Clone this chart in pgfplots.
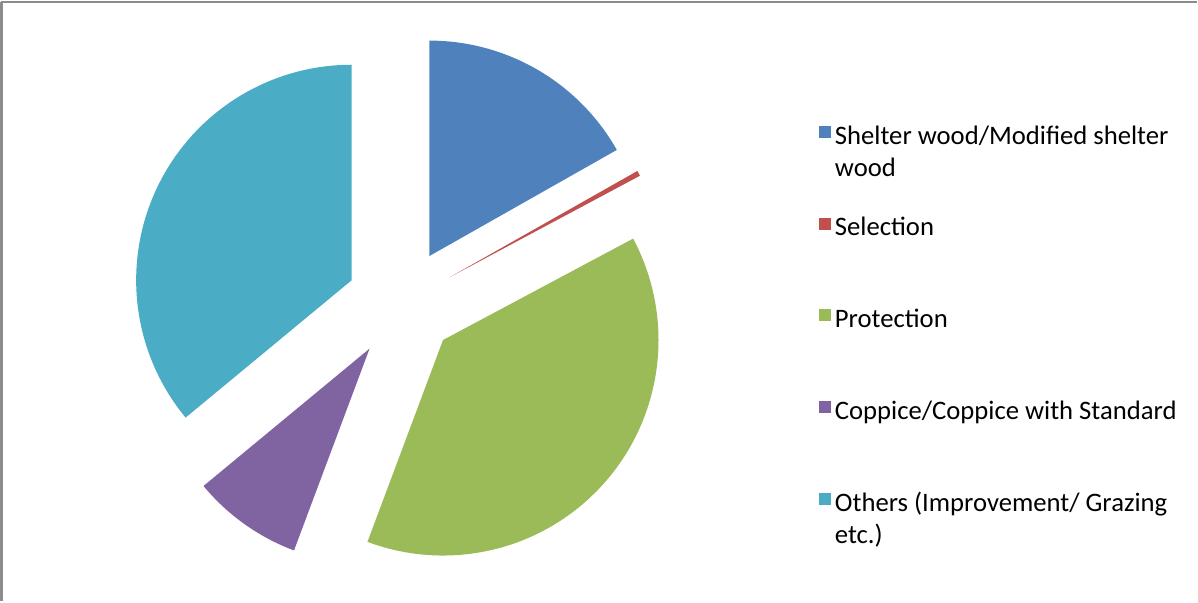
\documentclass[border=0pt]{standalone}
\usepackage{pgfplots}
\pgfplotsset{compat=1.18}
\usepackage{fontspec}
\setmainfont{Carlito}
\definecolor{cA}{HTML}{4F81BD}
\definecolor{cB}{HTML}{C0504D}
\definecolor{cC}{HTML}{9BBB59}
\definecolor{cD}{HTML}{8064A2}
\definecolor{cE}{HTML}{4BACC6}
\newcommand{\lgd}[1]{\parbox[t]{176pt}{\raggedright #1}}
% one exploded slice: #1 cumulative start (%), #2 value (%), #3 colour
\newcommand{\slice}[3]{%
  \pgfmathsetmacro\sa{90-3.6*#1}%
  \pgfmathsetmacro\sb{90-3.6*(#1+#2)}%
  \pgfmathsetmacro\sm{(\sa+\sb)/2}%
  \pgfmathsetmacro\cx{402+55*cos(\sm)}%
  \pgfmathsetmacro\cy{297+55*sin(\sm)}%
  \edef\temp{\noexpand\addplot[fill=#3, draw=none, domain=\sb:\sa, samples=120]
    ({\cx+215*cos(x)},{\cy+215*sin(x)}) -- (axis cs:\cx,\cy) -- cycle;}%
  \temp}
\begin{document}
\begin{tikzpicture}
\begin{axis}[
  scale only axis, width=599pt, height=302.5pt,
  xmin=0, xmax=1198, ymin=0, ymax=605,
  hide axis, clip=false,
  legend image code/.code={\fill[#1] (0pt,-0.8pt) rectangle (6pt,5.2pt);},
  legend cell align=left,
  legend style={draw=none, fill=none, at={(axis cs:818,479)}, anchor=north west,
    font=\fontsize{13.3}{16}\selectfont, row sep=31pt, inner sep=0pt,
    /tikz/every even column/.append style={column sep=4pt}},
]
\slice{0}{16.8}{cA}
\addlegendentry{\lgd{Shelter wood/Modified shelter\\wood}}
\slice{16.8}{0.4}{cB}
\addlegendentry{\lgd{Selection}}
\slice{17.2}{38.5}{cC}
\addlegendentry{\lgd{Protection}}
\slice{55.7}{8.3}{cD}
\addlegendentry{\lgd{Coppice/Coppice with Standard}}
\slice{64.0}{36.0}{cE}
\addlegendentry{\lgd{Others (Improvement/ Grazing\\etc.)}}
\draw[gray!90, line width=1.5pt] (axis cs:3,0) -- (axis cs:3,598.5);
\draw[gray!90, line width=0.6pt] (axis cs:2,598) -- (axis cs:1196,598);
\end{axis}
\end{tikzpicture}
\end{document}
